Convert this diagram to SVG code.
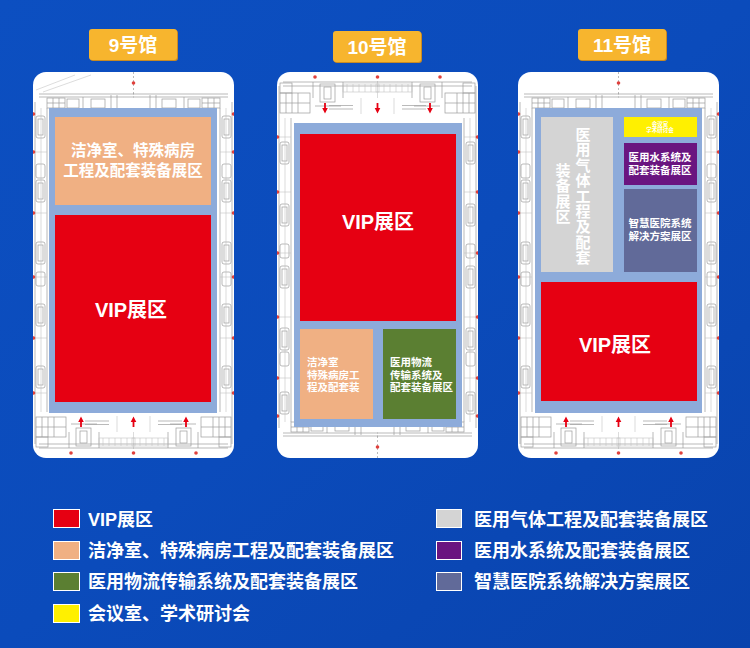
<svg xmlns="http://www.w3.org/2000/svg" xmlns:xlink="http://www.w3.org/1999/xlink" width="750" height="648" viewBox="0 0 750 648">
<defs>
  <linearGradient id="bg" x1="0" y1="0" x2="1" y2="1">
    <stop offset="0" stop-color="#0C4FC1"/>
    <stop offset="0.5" stop-color="#0B4BBB"/>
    <stop offset="1" stop-color="#0943AD"/>
  </linearGradient>
  <style>
    .t{font-family:'Liberation Sans','Noto Sans CJK SC',sans-serif;font-weight:bold;fill:#ffffff}
    .pl{fill:none;stroke:#9c9c9c;stroke-width:0.7}
    .pl2{fill:none;stroke:#c4c4c4;stroke-width:0.6}
    .dot{fill:#E0403C}
    .arr{fill:#E60012}
    .card{fill:#ffffff}
    .blue{fill:#8DABDA}
    .red{fill:#E60012}
    .org{fill:#F0B083}
    .grn{fill:#5B7F32}
    .yel{fill:#FFF000}
    .gry{fill:#D4D4D4}
    .pur{fill:#6A1580}
    .sla{fill:#616A99}
    .lbl{fill:#F7B52E}
    .lbls{fill:#C98A22}
    .sw{stroke:#ffffff;stroke-width:1}
  </style>
  <path id="arrow" d="M0,-5.5 L2.8,0 H0.9 V5 H-0.9 V0 H-2.8 Z"/>
  <g id="half">
    <path class="pl" d="M6,22 H101 M6,25 H101 M14,36 V340 M2,30 V372 M6,372 H101 M6,376 H101"/>
    <rect class="pl" x="14" y="26" width="18" height="10"/>
    <path class="pl" d="M20,26 V36 M26,26 V36 M14,31 H32"/>
    <rect class="pl" x="34" y="27" width="12" height="9"/>
    <rect class="pl" x="58" y="27" width="14" height="9"/>
    <path class="pl" d="M78,23 V36 M84,23 V36 M50,25 V36"/>
    <rect class="pl" x="3" y="44" width="9" height="22" rx="2"/>
    <rect class="pl" x="5" y="47" width="5" height="16"/>
    <rect class="pl" x="3" y="92" width="9" height="14" rx="2"/>
    <rect class="pl" x="3" y="108" width="9" height="22" rx="2"/>
    <rect class="pl" x="5" y="111" width="5" height="16"/>
    <rect class="pl" x="3" y="170" width="9" height="22" rx="2"/>
    <rect class="pl" x="5" y="173" width="5" height="16"/>
    <rect class="pl" x="3" y="200" width="9" height="14" rx="2"/>
    <rect class="pl" x="3" y="232" width="9" height="22" rx="2"/>
    <rect class="pl" x="5" y="235" width="5" height="16"/>
    <rect class="pl" x="3" y="294" width="9" height="22" rx="2"/>
    <rect class="pl" x="5" y="297" width="5" height="16"/>
    <path class="pl2" d="M8,36 V340 M2,80 H14 M2,141 H14 M2,205 H14 M2,266 H14 M2,321 H14"/>
    <rect class="pl" x="3" y="345" width="30" height="20"/>
    <path class="pl" d="M9,345 V365 M15,345 V365 M21,345 V365 M3,355 H33"/>
    <rect class="pl" x="3" y="365" width="12" height="10"/>
    <rect class="pl" x="43" y="356" width="15" height="18"/>
    <rect class="pl" x="47" y="359" width="7" height="12"/>
    <path class="pl" d="M38,352 H64 M52,349 H76 M52,352.5 H76 M36,360 V376 M66,360 V376"/>
    <rect class="pl2" x="66" y="366" width="36" height="8"/>
    <path class="pl2" d="M70,366 V374 M76,366 V374 M82,366 V374 M88,366 V374 M94,366 V374"/>
    <circle class="dot" cx="0.5" cy="42" r="1.8"/>
    <circle class="dot" cx="0.5" cy="80" r="1.8"/>
    <circle class="dot" cx="0.5" cy="141" r="1.8"/>
    <circle class="dot" cx="0.5" cy="205" r="1.8"/>
    <circle class="dot" cx="0.5" cy="266" r="1.8"/>
    <circle class="dot" cx="0.5" cy="321" r="1.8"/>
    <circle class="dot" cx="38" cy="381" r="1.8"/>
    <use xlink:href="#arrow" href="#arrow" class="arr" transform="translate(48,350)"/>
  </g>
  <g id="plan">
    <use xlink:href="#half" href="#half"/>
    <use xlink:href="#half" href="#half" transform="translate(201,0) scale(-1,1)"/>
    <path class="pl" d="M100.5,0 V22" stroke-dasharray="2,2"/>
    <circle class="dot" cx="100.5" cy="11" r="1.8"/>
    <circle class="dot" cx="100.5" cy="381" r="1.8"/>
    <use xlink:href="#arrow" href="#arrow" class="arr" transform="translate(100.5,350)"/>
    <path class="pl2" d="M84,344 V360 M117,344 V360 M100.5,360 V376"/>
  </g>
  <clipPath id="cardclip">
    <rect x="0" y="0" width="201" height="386" rx="13"/>
  </clipPath>
</defs>

<rect x="0" y="0" width="750" height="648" fill="url(#bg)"/>

<g id="hall9">
  <rect class="lbls" x="90" y="30" width="88" height="31" rx="3"/>
  <rect class="lbl" x="89" y="29" width="88" height="31" rx="3"/>
  <text class="t" x="133" y="52" font-size="19" text-anchor="middle">9号馆</text>
  <rect class="card" x="33" y="72" width="201" height="386" rx="13"/>
  <g transform="translate(33,72)" clip-path="url(#cardclip)">
    <use xlink:href="#plan" href="#plan"/>
    <path class="pl2" d="M3,18 L42,3 M10,20 L58,3"/>
  </g>
  <rect class="blue" x="49" y="108" width="168" height="305"/>
  <rect class="org" x="55" y="117" width="156" height="88"/>
  <text class="t" x="133" y="156" font-size="15.5" text-anchor="middle">洁净室、特殊病房</text>
  <text class="t" x="133" y="176" font-size="15.5" text-anchor="middle">工程及配套装备展区</text>
  <rect class="red" x="55" y="215" width="156" height="187"/>
  <text class="t" x="131" y="317" font-size="20" text-anchor="middle">VIP展区</text>
</g>

<g id="hall10">
  <rect class="lbls" x="334" y="32" width="88" height="31" rx="3"/>
  <rect class="lbl" x="333" y="31" width="88" height="31" rx="3"/>
  <text class="t" x="377" y="54" font-size="19" text-anchor="middle">10号馆</text>
  <rect class="card" x="277" y="72" width="201" height="386" rx="13"/>
  <g transform="translate(277,458) scale(1,-1)" clip-path="url(#cardclip)">
    <use xlink:href="#plan" href="#plan"/>
  </g>
  <rect class="blue" x="294" y="123" width="168" height="304"/>
  <rect class="red" x="300" y="134" width="156" height="187"/>
  <text class="t" x="378" y="229" font-size="20" text-anchor="middle">VIP展区</text>
  <rect class="org" x="300" y="329" width="73" height="90"/>
  <text class="t" x="307" y="366" font-size="10.5">洁净室</text>
  <text class="t" x="307" y="379" font-size="10.5">特殊病房工</text>
  <text class="t" x="307" y="391" font-size="10.5">程及配套装</text>
  <rect class="grn" x="383" y="329" width="73" height="90"/>
  <text class="t" x="390" y="366" font-size="10.5">医用物流</text>
  <text class="t" x="390" y="379" font-size="10.5">传输系统及</text>
  <text class="t" x="390" y="391" font-size="10.5">配套装备展区</text>
</g>

<g id="hall11">
  <rect class="lbls" x="579" y="30" width="88" height="31" rx="3"/>
  <rect class="lbl" x="578" y="29" width="88" height="31" rx="3"/>
  <text class="t" x="622" y="52" font-size="19" text-anchor="middle">11号馆</text>
  <rect class="card" x="518" y="72" width="201" height="386" rx="13"/>
  <g transform="translate(518,72)" clip-path="url(#cardclip)">
    <use xlink:href="#plan" href="#plan"/>
  </g>
  <rect class="blue" x="535" y="108" width="167" height="305"/>
  <rect class="gry" x="541" y="117" width="72" height="155"/>
  <text class="t" font-size="15" text-anchor="middle"><tspan x="583" y="140">医</tspan><tspan x="583" y="155.4">用</tspan><tspan x="583" y="170.8">气</tspan><tspan x="583" y="186.2">体</tspan><tspan x="583" y="201.6">工</tspan><tspan x="583" y="217">程</tspan><tspan x="583" y="232.4">及</tspan><tspan x="583" y="247.8">配</tspan><tspan x="583" y="263.2">套</tspan></text>
  <text class="t" font-size="15" text-anchor="middle"><tspan x="563" y="176">装</tspan><tspan x="563" y="191.4">备</tspan><tspan x="563" y="206.8">展</tspan><tspan x="563" y="222.2">区</tspan></text>
  <rect class="yel" x="624" y="117" width="73" height="20"/>
  <text class="t" x="660" y="126" font-size="5.5" text-anchor="middle">会议室</text>
  <text class="t" x="660" y="132" font-size="5.5" text-anchor="middle">学术研讨会</text>
  <rect class="pur" x="624" y="143" width="73" height="42"/>
  <text class="t" x="660" y="161" font-size="10.5" text-anchor="middle">医用水系统及</text>
  <text class="t" x="660" y="174" font-size="10.5" text-anchor="middle">配套装备展区</text>
  <rect class="sla" x="624" y="189" width="73" height="83"/>
  <text class="t" x="660" y="227" font-size="10.5" text-anchor="middle">智慧医院系统</text>
  <text class="t" x="660" y="240" font-size="10.5" text-anchor="middle">解决方案展区</text>
  <rect class="red" x="541" y="282" width="156" height="119"/>
  <text class="t" x="615" y="352" font-size="20" text-anchor="middle">VIP展区</text>
</g>

<g id="legend">
  <g id="lg-vip">
    <rect class="red sw" x="53.5" y="509.5" width="26" height="18"/>
    <text class="t" x="88" y="526" font-size="18">VIP展区</text>
  </g>
  <g id="lg-clean">
    <rect class="org sw" x="53.5" y="541.5" width="26" height="18"/>
    <text class="t" x="88" y="557" font-size="18">洁净室、特殊病房工程及配套装备展区</text>
  </g>
  <g id="lg-logistics">
    <rect class="grn sw" x="53.5" y="572.5" width="26" height="18"/>
    <text class="t" x="88" y="588" font-size="18">医用物流传输系统及配套装备展区</text>
  </g>
  <g id="lg-meeting">
    <rect class="yel sw" x="53.5" y="604.5" width="26" height="18"/>
    <text class="t" x="88" y="620" font-size="18">会议室、学术研讨会</text>
  </g>
  <g id="lg-gas">
    <rect class="gry sw" x="436.5" y="509.5" width="25" height="18"/>
    <text class="t" x="474" y="526" font-size="18">医用气体工程及配套装备展区</text>
  </g>
  <g id="lg-water">
    <rect class="pur sw" x="436.5" y="541.5" width="25" height="18"/>
    <text class="t" x="474" y="557" font-size="18">医用水系统及配套装备展区</text>
  </g>
  <g id="lg-smart">
    <rect class="sla sw" x="436.5" y="572.5" width="25" height="18"/>
    <text class="t" x="474" y="588" font-size="18">智慧医院系统解决方案展区</text>
  </g>
</g>
</svg>
